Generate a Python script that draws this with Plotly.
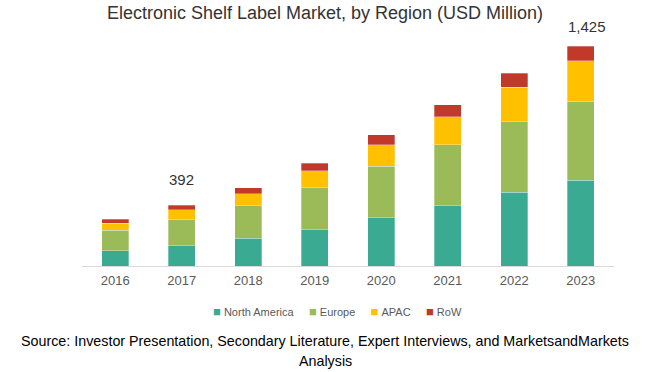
import plotly.graph_objects as go

years = ["2016", "2017", "2018", "2019", "2020", "2021", "2022", "2023"]
north_america = [99, 131, 179, 235, 311, 391, 479, 557]
europe = [134, 170, 211, 272, 335, 395, 455, 510]
apac = [45, 62, 78, 110, 140, 181, 225, 261]
row = [24, 29, 39, 48, 65, 78, 89, 97]
series_names = ["North America", "Europe", "APAC", "RoW"]
colors = ["#3BAA92", "#9BBB59", "#FFC000", "#C0392B"]
labelled_years = ["2017", "2023"]
labelled_totals = ["392", "1,425"]
source_lines = ["Source: Investor Presentation, Secondary Literature, Expert Interviews, and MarketsandMarkets",
                "Analysis"]

W, H = 650, 372
ML, MR, MT, MB = 82, 36, 30, 106
PLOT_W = W - ML - MR
PLOT_H = H - MT - MB

fig = go.Figure()
for name, vals, col in zip(series_names, [north_america, europe, apac, row], colors):
    fig.add_trace(go.Bar(x=list(years), y=[float(v) for v in vals], name=name,
                         marker_color=col, marker_line_width=0.6,
                         marker_line_color="rgba(255,255,255,0.5)"))

totals = [a + b + c + d for a, b, c, d in zip(north_america, europe, apac, row)]
label_shifts = [(0, 26), (6, 20)]
for (yr, txt), (dx, dy) in zip(zip(labelled_years, labelled_totals), label_shifts):
    i = years.index(yr)
    fig.add_annotation(x=i, y=totals[i], text=txt, showarrow=False, xshift=dx, yshift=dy,
                       font=dict(family="Liberation Sans, Arial", size=15, color="#333333"))

# compact legend row
sep = "&nbsp;" * 5
legend_text = sep.join(
    f'<span style="color:{c};font-size:13px">■</span>&nbsp;{n}' for n, c in zip(series_names, colors)
)
fig.add_annotation(xref="paper", yref="paper", x=(337 - ML) / PLOT_W, y=-(311 - (H - MB)) / PLOT_H,
                   xanchor="center", yanchor="middle", showarrow=False, text=legend_text,
                   font=dict(family="Liberation Sans, Arial", size=11, color="#595959"))

for k, line in enumerate(source_lines):
    cy = 341 + 20 * k
    fig.add_annotation(xref="paper", yref="paper", x=(325 - ML) / PLOT_W, y=-(cy - (H - MB)) / PLOT_H,
                       xanchor="center", yanchor="middle", showarrow=False,
                       text=line,
                       font=dict(family="Liberation Sans, Arial", size=14.3, color="#000000"))

fig.update_layout(
    width=W, height=H,
    margin=dict(l=ML, r=MR, t=MT, b=MB),
    barmode="stack", bargap=0.6,
    plot_bgcolor="white", paper_bgcolor="white",
    showlegend=False,
    title=dict(text="Electronic Shelf Label Market, by Region (USD Million)", x=0.5, xanchor="center",
               xref="container", yref="container", y=1 - 13 / H, yanchor="middle",
               font=dict(family="Liberation Sans, Arial", size=18, color="#333333")),
    xaxis=dict(type="category", categoryorder="array", categoryarray=years, range=[-0.5, len(years) - 0.5],
               showline=True, linecolor="#D9D9D9", linewidth=1, ticks="outside", ticklen=2,
               tickcolor="rgba(0,0,0,0)", showgrid=False,
               tickfont=dict(family="Liberation Sans, Arial", size=13, color="#595959")),
    yaxis=dict(range=[0, 1425 * PLOT_H / 220], visible=False, showgrid=False),
)

fig.write_html("out.html", config={"displayModeBar": False},
               post_script="document.body.style.margin='0';")
